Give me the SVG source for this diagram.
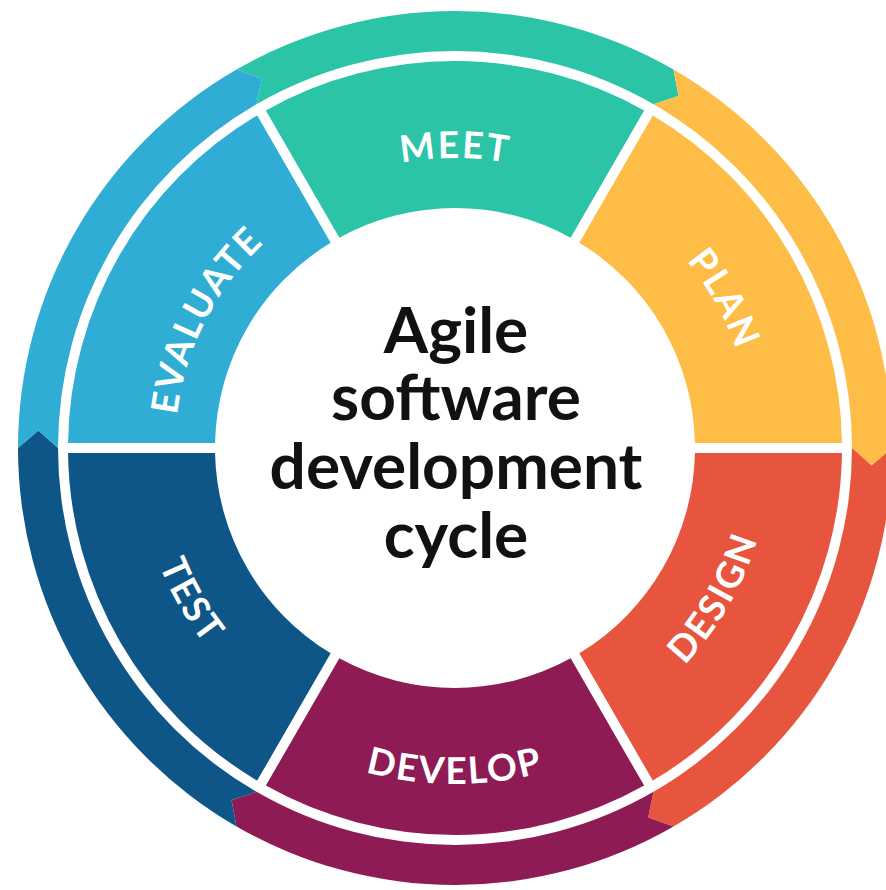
<svg xmlns="http://www.w3.org/2000/svg" xmlns:xlink="http://www.w3.org/1999/xlink" width="886" height="890" viewBox="0 0 886 890">
<style>
.teal{fill:#2BC4A7}
.yellow{fill:#FDBD46}
.red{fill:#E8553F}
.purple{fill:#8E1B54}
.dblue{fill:#0D5687}
.lblue{fill:#2FADD4}
.lbl{font-family:Lato,"Open Sans","Liberation Sans",sans-serif;font-weight:700;font-size:37px;fill:#FFFFFF;letter-spacing:2px}
.title{font-family:Lato,"Open Sans","Liberation Sans",sans-serif;font-weight:700;font-size:64px;fill:#111111;text-anchor:middle}
</style>
<defs>
<path id="cw290" d="M 203.853,303 A 290 290 0 0 1 706.147,303"/>
<path id="cw298" d="M 196.925,299 A 298 298 0 0 1 713.075,299"/>
<path id="cw280" d="M 212.513,308 A 280 280 0 0 1 697.487,308"/>
<path id="ccw316" d="M 181.336,606 A 316 316 0 0 0 728.664,606"/>
<path id="ccw336" d="M 164.016,616 A 336 336 0 0 0 745.984,616"/>
<path id="ccw318" d="M 179.604,607 A 318 318 0 0 0 730.396,607"/>
</defs>
<rect width="886" height="890" fill="#FFFFFF"/>
<g id="cycle-arrows">
<path class="teal" d="M 236.5,69.547 A 437 437 0 0 1 673.5,69.547 L 678.441,95.915 L 653.5,104.188 A 397 397 0 0 0 256.5,104.188 L 261.806,78.453 Z"/>
<path class="yellow" d="M 673.5,69.547 A 437 437 0 0 1 892,448 L 871.634,465.462 L 852,448 A 397 397 0 0 0 653.5,104.188 L 678.441,95.915 Z"/>
<path class="red" d="M 892,448 A 437 437 0 0 1 673.5,826.453 L 648.194,817.547 L 653.5,791.812 A 397 397 0 0 0 852,448 L 871.634,465.462 Z"/>
<path class="purple" d="M 673.5,826.453 A 437 437 0 0 1 236.5,826.453 L 231.559,800.085 L 256.5,791.812 A 397 397 0 0 0 653.5,791.812 L 648.194,817.547 Z"/>
<path class="dblue" d="M 236.5,826.453 A 437 437 0 0 1 18,448 L 38.366,430.538 L 58,448 A 397 397 0 0 0 256.5,791.812 L 231.559,800.085 Z"/>
<path class="lblue" d="M 18,448 A 437 437 0 0 1 236.5,69.547 L 261.806,78.453 L 256.5,104.188 A 397 397 0 0 0 58,448 L 38.366,430.538 Z"/>
</g>
<g id="meet">
<path class="teal" d="M 265.846,110.376 A 387 387 0 0 1 644.154,110.376 L 570.644,237.699 A 240 240 0 0 0 339.356,237.699 Z"/>
<text class="lbl"><textPath href="#cw290" xlink:href="#cw290" startOffset="50%" text-anchor="middle">MEET</textPath></text>
</g>
<g id="plan">
<path class="yellow" d="M 652.814,115.376 A 387 387 0 0 1 841.968,443 L 694.948,443 A 240 240 0 0 0 579.304,242.699 Z"/>
<text class="lbl" transform="rotate(61 455 448)"><textPath href="#cw298" xlink:href="#cw298" startOffset="50%" text-anchor="middle">PLAN</textPath></text>
</g>
<g id="design">
<path class="red" d="M 841.968,453 A 387 387 0 0 1 652.814,780.624 L 579.304,653.301 A 240 240 0 0 0 694.948,453 Z"/>
<text class="lbl" transform="rotate(-60 455 448)"><textPath href="#ccw316" xlink:href="#ccw316" startOffset="50%" text-anchor="middle">DESIGN</textPath></text>
</g>
<g id="develop">
<path class="purple" d="M 644.154,785.624 A 387 387 0 0 1 265.846,785.624 L 339.356,658.301 A 240 240 0 0 0 570.644,658.301 Z"/>
<text class="lbl"><textPath href="#ccw336" xlink:href="#ccw336" startOffset="50%" text-anchor="middle">DEVELOP</textPath></text>
</g>
<g id="test">
<path class="dblue" d="M 257.186,780.624 A 387 387 0 0 1 68.032,453 L 215.052,453 A 240 240 0 0 0 330.696,653.301 Z"/>
<text class="lbl" transform="rotate(60 455 448)"><textPath href="#ccw318" xlink:href="#ccw318" startOffset="50%" text-anchor="middle">TEST</textPath></text>
</g>
<g id="evaluate">
<path class="lblue" d="M 68.032,443 A 387 387 0 0 1 257.186,115.376 L 330.696,242.699 A 240 240 0 0 0 215.052,443 Z"/>
<text class="lbl" transform="rotate(-63 455 448)"><textPath href="#cw280" xlink:href="#cw280" startOffset="50%" text-anchor="middle">EVALUATE</textPath></text>
</g>
<g id="title">
<text class="title" x="456" y="353">Agile</text>
<text class="title" x="456" y="420">software</text>
<text class="title" x="456" y="489">development</text>
<text class="title" x="456" y="558">cycle</text>
</g>
</svg>
